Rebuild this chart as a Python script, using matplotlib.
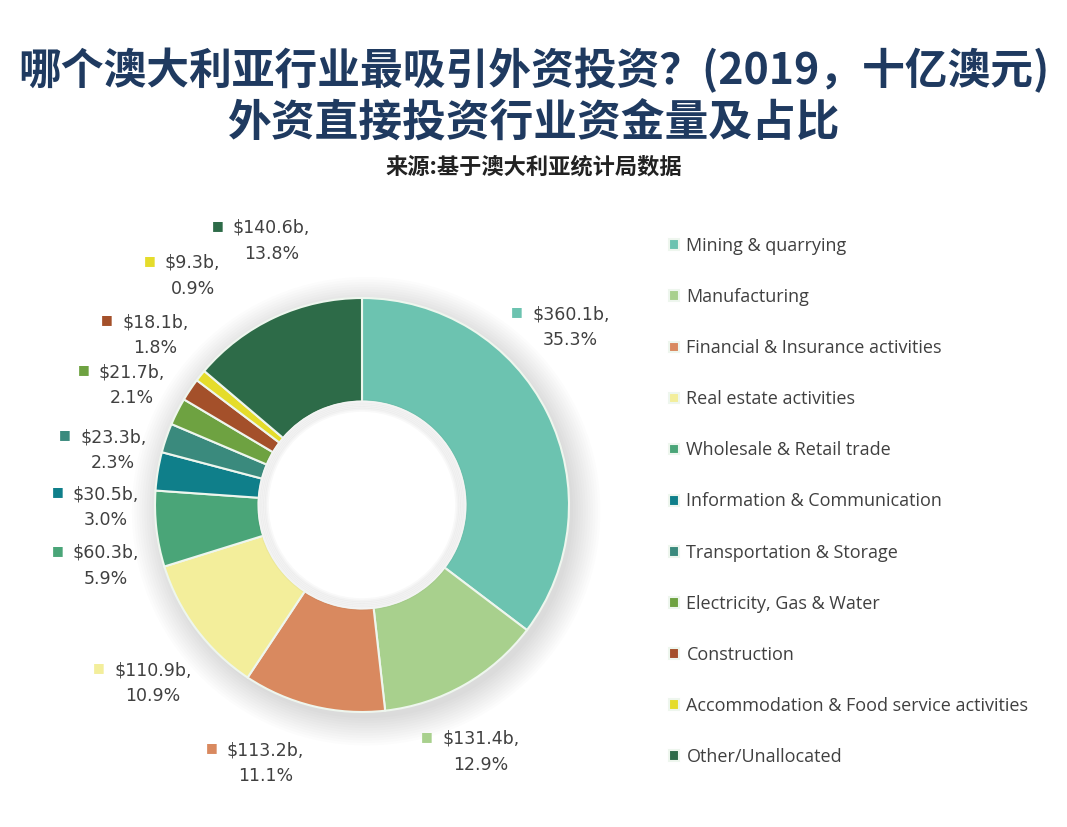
import matplotlib
matplotlib.use('Agg')
import matplotlib.pyplot as plt
from matplotlib.patches import Circle

plt.rcParams['font.family'] = ['Noto Sans CJK SC', 'DejaVu Sans']

W, H = 1067, 827

industries = ['Mining & quarrying', 'Manufacturing',
              'Financial & Insurance activities', 'Real estate activities',
              'Wholesale & Retail trade', 'Information & Communication',
              'Transportation & Storage', 'Electricity, Gas & Water',
              'Construction', 'Accommodation & Food service activities',
              'Other/Unallocated']
values = [360.1, 131.4, 113.2, 110.9, 60.3, 30.5, 23.3, 21.7, 18.1, 9.3, 140.6]
shares = [35.3, 12.9, 11.1, 10.9, 5.9, 3.0, 2.3, 2.1, 1.8, 0.9, 13.8]
colors = ['#6cc3b0', '#a8d08d', '#d9895f', '#f3ee9b', '#4aa578', '#0f7f8a',
          '#3a8a7d', '#6ea241', '#a4502a', '#e5dc2b', '#2d6b48']

# label marker positions in figure pixels (from top-left)
label_pos = [(517, 312), (427, 737), (212, 748), (99, 668), (58, 551),
             (58, 492), (65, 435), (84, 370), (107, 320), (150, 261),
             (218, 226)]

fig = plt.figure(figsize=(W / 100, H / 100), dpi=100)
fig.patch.set_facecolor('white')

cx, cy, r = 362, 505, 207
ax = fig.add_axes([(cx - r) / W, (H - cy - r) / H, 2 * r / W, 2 * r / H])

# soft shadow behind the ring
for k in range(12):
    ax.add_patch(Circle((0.02, -0.03), 1.0 + 0.012 * k, color='#000000',
                        alpha=0.012, lw=0, zorder=0, clip_on=False))

wedges, _ = ax.pie(values, colors=colors, startangle=90, counterclock=False,
                   radius=1.0,
                   wedgeprops=dict(width=0.5, edgecolor='#eef6ee', linewidth=1.5))
ax.add_patch(Circle((0, 0), 0.5, color='white', zorder=3))
for k in range(6):
    ax.add_patch(Circle((0, 0), 0.5 - 0.008 * k, fill=False,
                        edgecolor='#000000', alpha=0.025, lw=3, zorder=4))
ax.set_xlim(-1, 1)
ax.set_ylim(-1, 1)
ax.set_aspect('equal')
ax.axis('off')

# data labels
for (mx, my), v, s, c in zip(label_pos, values, shares, colors):
    fig.text(mx / W, 1 - my / H, '■', color=c, fontsize=9,
             ha='center', va='center', family='DejaVu Sans')
    fig.text((mx + 15) / W, 1 - (my - 7) / H, f'${v}b,\n{s}%',
             ha='left', va='top', multialignment='center',
             fontsize=12.5, color='#404040', linespacing=1.6,
             family='DejaVu Sans')

# legend
leg = fig.legend(wedges, industries, loc='upper left',
                 bbox_to_anchor=(653 / W, 1 - 221 / H),
                 frameon=False, labelspacing=1.83,
                 handlelength=0.55, handleheight=0.55, handletextpad=0.4,
                 prop={'family': 'Open Sans', 'size': 13})
for t in leg.get_texts():
    t.set_color('#404040')

# titles
fig.text(0.5, 1 - 71 / H, '哪个澳大利亚行业最吸引外资投资？(2019，十亿澳元)',
         ha='center', va='center', fontsize=30.8, fontweight='bold',
         color='#1f3a60')
fig.text(0.5, 1 - 124 / H, '外资直接投资行业资金量及占比',
         ha='center', va='center', fontsize=31.5, fontweight='bold',
         color='#1f3a60')
fig.text(0.5, 1 - 167 / H, '来源:基于澳大利亚统计局数据',
         ha='center', va='center', fontsize=16, fontweight='bold',
         color='#222222')

fig.savefig('out.png', dpi=100)
